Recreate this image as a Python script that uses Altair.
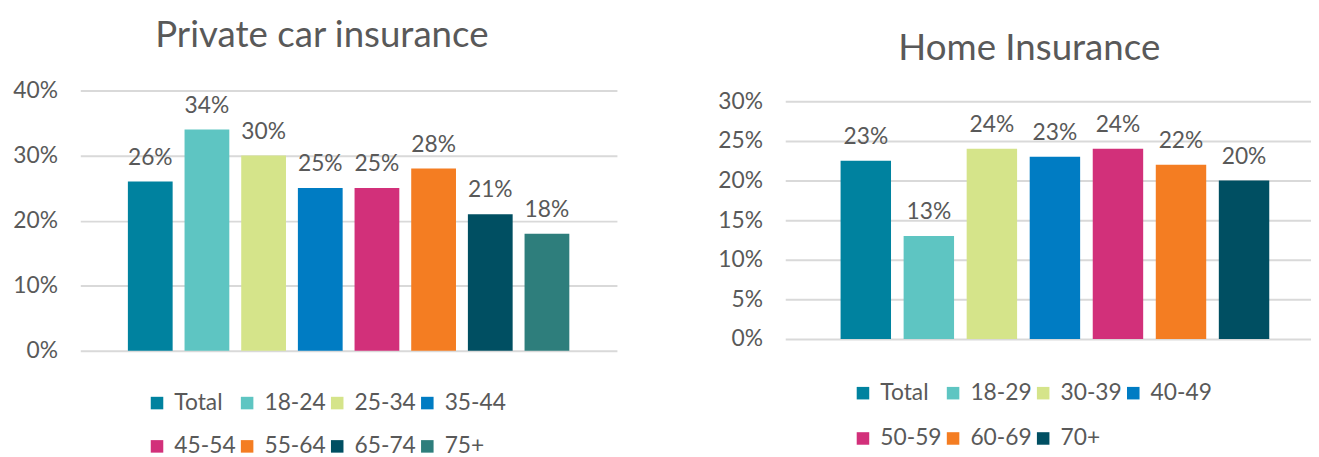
import altair as alt
import pandas as pd

# ---- data ----
car_groups = ["Total", "18-24", "25-34", "35-44", "45-54", "55-64", "65-74", "75+"]
car_values = [0.26, 0.34, 0.30, 0.25, 0.25, 0.28, 0.21, 0.18]
car_colors = ["#00829F", "#5EC5C2", "#D5E48A", "#007CC3", "#D2307A", "#F47D22", "#004F62", "#2E7E7C"]

home_groups = ["Total", "18-29", "30-39", "40-49", "50-59", "60-69", "70+"]
home_values = [0.225, 0.13, 0.24, 0.23, 0.24, 0.22, 0.20]
home_colors = ["#00829F", "#5EC5C2", "#D5E48A", "#007CC3", "#D2307A", "#F47D22", "#004F62"]

car_ticks = [0, 0.1, 0.2, 0.3, 0.4]
home_ticks = [0, 0.05, 0.10, 0.15, 0.20, 0.25, 0.30]

TEXT = "#595959"
GRID = "#D9D9D9"
FONT = "Lato"
FS = 23


def pct_label(v):
    return f"{int(v * 100 + 0.5 + 1e-9)}%"


def panel(groups, values, colors, ticks, domain, title, width, height, xscale,
          legend_xy, row_pad, title_dx, title_offset):
    df = pd.DataFrame({"group": groups, "value": values,
                       "label": [pct_label(v) for v in values]})
    base = alt.Chart(df).encode(
        x=alt.X("group:N", sort=groups, axis=None, scale=xscale),
    )
    bars = base.mark_bar().encode(
        y=alt.Y("value:Q",
                scale=alt.Scale(domain=domain, nice=False, zero=False),
                axis=alt.Axis(values=ticks, format=".0%", title=None, domain=False,
                              ticks=False, grid=True, gridColor=GRID, gridWidth=2,
                              labelFont=FONT, labelFontSize=FS, labelColor=TEXT,
                              labelPadding=23)),
        y2=alt.datum(0),
        color=alt.Color("group:N", sort=groups,
                        scale=alt.Scale(domain=groups, range=colors),
                        legend=alt.Legend(orient="none", legendX=legend_xy[0], legendY=legend_xy[1],
                                          columns=4, direction="horizontal", title=None,
                                          symbolType="square", symbolSize=160,
                                          symbolStrokeWidth=0, symbolOpacity=1,
                                          labelFont=FONT, labelFontSize=FS, labelColor=TEXT,
                                          labelOffset=6, columnPadding=0, rowPadding=row_pad)),
    )
    labels = base.mark_text(baseline="alphabetic", dy=-17, font=FONT, fontSize=FS, color=TEXT).encode(
        y=alt.Y("value:Q"),
        text="label:N",
    )
    return alt.layer(bars, labels).properties(
        width=width, height=height,
        title=alt.TitleParams(title, font=FONT, fontSize=37, fontWeight="normal", color=TEXT,
                              anchor="middle", frame="group", baseline="alphabetic",
                              offset=title_offset, dx=title_dx),
    )


left = panel(car_groups, car_values, car_colors, car_ticks, [0, 0.4], "Private car insurance",
             542, 263,
             alt.Scale(paddingInner=0.21, paddingOuter=0.84),
             (66, 304), 20, -27, -4)
# right panel: same plot-box height as the left one; the extra domain margin
# places the 0%..30% grid where the reference draws it
right = panel(home_groups, home_values, home_colors, home_ticks, [-0.015, 0.31375], "Home Insurance",
              531, 263,
              alt.Scale(paddingInner=0.2, paddingOuter=0.77, align=0.57),
              (67, 294), 22, -19, -6)

chart = alt.hconcat(left, right, spacing=101).resolve_scale(
    color="independent"
).properties(
    padding={"left": 4, "top": 7, "right": 0, "bottom": 0}
).configure(font=FONT).configure_view(stroke=None, strokeWidth=0)

chart.save("out.html", embed_options={"renderer": "svg", "actions": False})
